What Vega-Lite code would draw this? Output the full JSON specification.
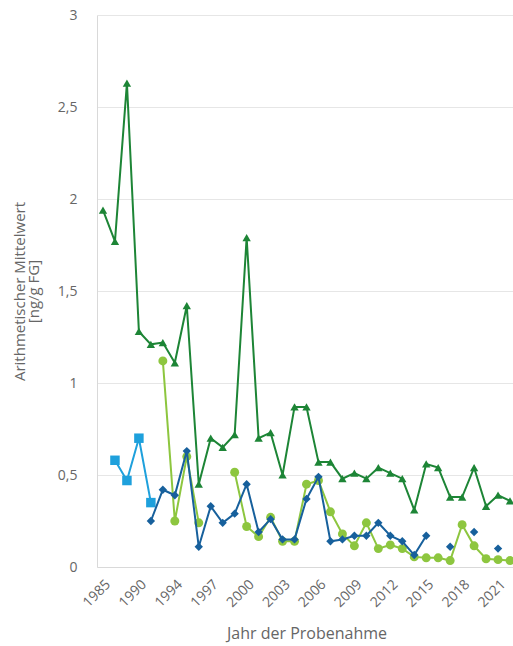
{
  "$schema": "https://vega.github.io/schema/vega-lite/v6.json",
  "width": 419,
  "height": 552,
  "autosize": {"type": "none"},
  "padding": {"left": 97, "top": 15, "right": 0, "bottom": 79},
  "background": "white",
  "config": {
    "font": "Open Sans",
    "view": {"stroke": null},
    "axis": {"labelColor": "#666666", "titleColor": "#666666", "titleFontWeight": "normal", "domainColor": "#d9d9d9", "ticks": false, "gridColor": "#e6e6e6"}
  },
  "data": {
    "values": [
      {"year": "1985", "s": "g", "v": 1.94}, {"year": "1987", "s": "g", "v": 1.77}, {"year": "1989", "s": "g", "v": 2.63},
      {"year": "1990", "s": "g", "v": 1.28}, {"year": "1991", "s": "g", "v": 1.21}, {"year": "1992", "s": "g", "v": 1.22},
      {"year": "1994", "s": "g", "v": 1.11}, {"year": "1995", "s": "g", "v": 1.42}, {"year": "1996", "s": "g", "v": 0.45},
      {"year": "1997", "s": "g", "v": 0.7}, {"year": "1998", "s": "g", "v": 0.65}, {"year": "1999", "s": "g", "v": 0.72},
      {"year": "2000", "s": "g", "v": 1.79}, {"year": "2001", "s": "g", "v": 0.7}, {"year": "2002", "s": "g", "v": 0.73},
      {"year": "2003", "s": "g", "v": 0.5}, {"year": "2004", "s": "g", "v": 0.87}, {"year": "2005", "s": "g", "v": 0.87},
      {"year": "2006", "s": "g", "v": 0.57}, {"year": "2007", "s": "g", "v": 0.57}, {"year": "2008", "s": "g", "v": 0.48},
      {"year": "2009", "s": "g", "v": 0.51}, {"year": "2010", "s": "g", "v": 0.48}, {"year": "2011", "s": "g", "v": 0.54},
      {"year": "2012", "s": "g", "v": 0.51}, {"year": "2013", "s": "g", "v": 0.48}, {"year": "2014", "s": "g", "v": 0.31},
      {"year": "2015", "s": "g", "v": 0.56}, {"year": "2016", "s": "g", "v": 0.54}, {"year": "2017", "s": "g", "v": 0.38},
      {"year": "2018", "s": "g", "v": 0.38}, {"year": "2019", "s": "g", "v": 0.54}, {"year": "2020", "s": "g", "v": 0.33},
      {"year": "2021", "s": "g", "v": 0.39}, {"year": "2022", "s": "g", "v": 0.36},

      {"year": "1987", "s": "b", "v": 0.58}, {"year": "1989", "s": "b", "v": 0.47}, {"year": "1990", "s": "b", "v": 0.7}, {"year": "1991", "s": "b", "v": 0.35},

      {"year": "1992", "s": "l", "v": 1.12}, {"year": "1994", "s": "l", "v": 0.25}, {"year": "1995", "s": "l", "v": 0.6},
      {"year": "1996", "s": "l", "v": 0.24}, {"year": "1997", "s": "l", "v": null}, {"year": "1998", "s": "l", "v": null},
      {"year": "1999", "s": "l", "v": 0.515}, {"year": "2000", "s": "l", "v": 0.22}, {"year": "2001", "s": "l", "v": 0.165},
      {"year": "2002", "s": "l", "v": 0.27}, {"year": "2003", "s": "l", "v": 0.14}, {"year": "2004", "s": "l", "v": 0.14},
      {"year": "2005", "s": "l", "v": 0.45}, {"year": "2006", "s": "l", "v": 0.47}, {"year": "2007", "s": "l", "v": 0.3},
      {"year": "2008", "s": "l", "v": 0.18}, {"year": "2009", "s": "l", "v": 0.115}, {"year": "2010", "s": "l", "v": 0.24},
      {"year": "2011", "s": "l", "v": 0.1}, {"year": "2012", "s": "l", "v": 0.12}, {"year": "2013", "s": "l", "v": 0.1},
      {"year": "2014", "s": "l", "v": 0.055}, {"year": "2015", "s": "l", "v": 0.05}, {"year": "2016", "s": "l", "v": 0.05},
      {"year": "2017", "s": "l", "v": 0.035}, {"year": "2018", "s": "l", "v": 0.23}, {"year": "2019", "s": "l", "v": 0.115},
      {"year": "2020", "s": "l", "v": 0.045}, {"year": "2021", "s": "l", "v": 0.04}, {"year": "2022", "s": "l", "v": 0.035},

      {"year": "1991", "s": "d", "v": 0.25}, {"year": "1992", "s": "d", "v": 0.42}, {"year": "1994", "s": "d", "v": 0.39},
      {"year": "1995", "s": "d", "v": 0.63}, {"year": "1996", "s": "d", "v": 0.11}, {"year": "1997", "s": "d", "v": 0.33},
      {"year": "1998", "s": "d", "v": 0.24}, {"year": "1999", "s": "d", "v": 0.29}, {"year": "2000", "s": "d", "v": 0.45},
      {"year": "2001", "s": "d", "v": 0.19}, {"year": "2002", "s": "d", "v": 0.26}, {"year": "2003", "s": "d", "v": 0.15},
      {"year": "2004", "s": "d", "v": 0.15}, {"year": "2005", "s": "d", "v": 0.37}, {"year": "2006", "s": "d", "v": 0.49},
      {"year": "2007", "s": "d", "v": 0.14}, {"year": "2008", "s": "d", "v": 0.15}, {"year": "2009", "s": "d", "v": 0.17},
      {"year": "2010", "s": "d", "v": 0.17}, {"year": "2011", "s": "d", "v": 0.24}, {"year": "2012", "s": "d", "v": 0.17},
      {"year": "2013", "s": "d", "v": 0.14}, {"year": "2014", "s": "d", "v": 0.065}, {"year": "2015", "s": "d", "v": 0.17},
      {"year": "2016", "s": "d", "v": null}, {"year": "2017", "s": "d", "v": 0.11}, {"year": "2018", "s": "d", "v": null},
      {"year": "2019", "s": "d", "v": 0.19}, {"year": "2020", "s": "d", "v": null}, {"year": "2021", "s": "d", "v": 0.1}
    ]
  },
  "encoding": {
    "x": {
      "field": "year", "type": "ordinal",
      "scale": {"type": "point", "padding": 0.5, "domain": ["1985","1987","1989","1990","1991","1992","1994","1995","1996","1997","1998","1999","2000","2001","2002","2003","2004","2005","2006","2007","2008","2009","2010","2011","2012","2013","2014","2015","2016","2017","2018","2019","2020","2021","2022"]},
      "axis": {"values": ["1985","1990","1994","1997","2000","2003","2006","2009","2012","2015","2018","2021"], "labelAngle": -45, "labelFontSize": 14, "labelPadding": 10, "grid": false, "title": "Jahr der Probenahme", "titleFontSize": 16, "titlePadding": 16}
    },
    "y": {
      "field": "v", "type": "quantitative",
      "scale": {"domain": [0, 3]},
      "axis": {"values": [0, 0.5, 1, 1.5, 2, 2.5, 3], "labelExpr": "replace(toString(datum.value), '.', ',')", "labelFontSize": 14, "labelPadding": 20, "grid": true, "title": ["Arithmetischer Mittelwert", "[ng/g FG]"], "titleFontSize": 15, "titleLineHeight": 14, "titlePadding": 16}
    }
  },
  "layer": [
    {"transform": [{"filter": "datum.s === 'g'"}], "mark": {"type": "line", "color": "#1d8536", "strokeWidth": 2, "point": {"shape": "triangle-up", "size": 70, "filled": true, "color": "#1d8536", "opacity": 1}}},
    {"transform": [{"filter": "datum.s === 'b'"}], "mark": {"type": "line", "color": "#1ea0dc", "strokeWidth": 2, "point": {"shape": "square", "size": 90, "filled": true, "color": "#1ea0dc", "opacity": 1}}},
    {"transform": [{"filter": "datum.s === 'l'"}], "mark": {"type": "line", "color": "#8dc63f", "strokeWidth": 2, "point": {"shape": "circle", "size": 80, "filled": true, "color": "#8dc63f", "opacity": 1}}},
    {"transform": [{"filter": "datum.s === 'd'"}], "mark": {"type": "line", "color": "#17609c", "strokeWidth": 2, "point": {"shape": "diamond", "size": 70, "filled": true, "color": "#17609c", "opacity": 1}}}
  ]
}
